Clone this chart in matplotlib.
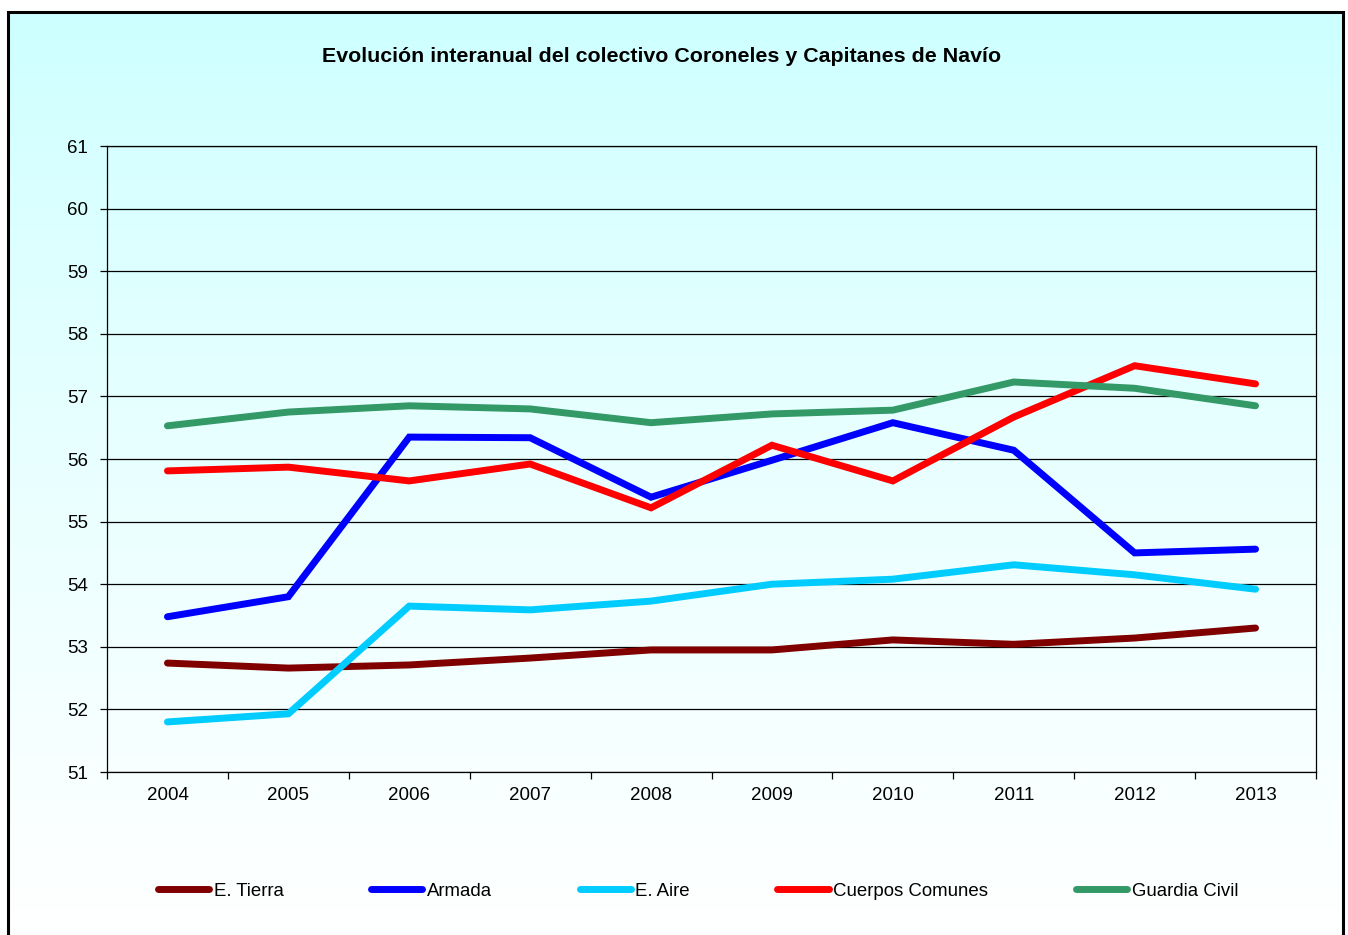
import numpy as np
import matplotlib.pyplot as plt
from matplotlib.patches import Rectangle

plt.rcParams['font.family'] = ['Liberation Sans', 'DejaVu Sans']

years = ['2004', '2005', '2006', '2007', '2008', '2009', '2010', '2011', '2012', '2013']
tierra = [52.74, 52.66, 52.71, 52.82, 52.95, 52.95, 53.11, 53.04, 53.14, 53.30]
armada = [53.48, 53.80, 56.35, 56.34, 55.39, 55.98, 56.58, 56.14, 54.50, 54.56]
aire = [51.80, 51.93, 53.65, 53.59, 53.73, 54.00, 54.08, 54.31, 54.15, 53.92]
comunes = [55.81, 55.87, 55.65, 55.92, 55.22, 56.22, 55.65, 56.67, 57.49, 57.20]
guardia = [56.53, 56.75, 56.85, 56.80, 56.58, 56.72, 56.78, 57.23, 57.13, 56.85]

series = [
    ('E. Tierra', tierra, '#800000'),
    ('Armada', armada, '#0000FF'),
    ('E. Aire', aire, '#00CCFF'),
    ('Cuerpos Comunes', comunes, '#FF0000'),
    ('Guardia Civil', guardia, '#339966'),
]

W, H = 1348, 935
fig = plt.figure(figsize=(W / 100, H / 100), dpi=100)
fig.patch.set_facecolor('white')

# background gradient inside the chart frame (cyan at top -> white at bottom)
bg = fig.add_axes([8 / W, 0, (1343 - 8) / W, (H - 12) / H], zorder=0)
grad = np.linspace(0, 1, 256).reshape(-1, 1) ** 0.8
top = np.array([0xCC, 0xFF, 0xFF]) / 255
bot = np.array([1.0, 1.0, 1.0])
img = top[None, None, :] * (1 - grad[:, :, None]) + bot[None, None, :] * grad[:, :, None]
bg.imshow(img, aspect='auto', extent=[0, 1, 0, 1])
bg.set_axis_off()
fig.add_artist(Rectangle((8 / W, -0.1), (1343 - 8) / W, 1.1 - 12 / H, transform=fig.transFigure,
                         fill=False, edgecolor='black', linewidth=2.2, zorder=5))

ax = fig.add_axes([107 / W, 1 - 772 / H, (1316 - 107) / W, (772 - 146) / H], zorder=1)
ax.patch.set_alpha(0)

x = np.arange(len(years))
for name, vals, col in series:
    ax.plot(x, vals, color=col, lw=5, label=name, solid_capstyle='round', solid_joinstyle='miter')

ax.set_xlim(-0.5, len(years) - 0.5)
ax.set_ylim(51, 61)
ax.set_yticks(range(51, 62))
ax.yaxis.grid(True, color='black', lw=0.9)
ax.set_axisbelow(True)
ax.set_xticks(x)
ax.set_xticklabels(years)
ax.set_xticks(np.arange(-0.5, len(years)), minor=True)
ax.tick_params(axis='x', which='major', length=0, pad=11, labelsize=13.5)
ax.tick_params(axis='x', which='minor', length=5, width=0.9, direction='out')
ax.tick_params(axis='y', length=5, width=0.9, pad=8.5, labelsize=13.5)
for s in ax.spines.values():
    s.set_linewidth(0.9)
    s.set_color('black')

fig.text(662 / W, 1 - 57 / H, 'Evolución interanual del colectivo Coroneles y Capitanes de Navío',
         ha='center', va='center', fontsize=15.4, fontweight='bold')

fig.legend(loc='center', bbox_to_anchor=(698 / W, 1 - 891 / H), ncol=5, frameon=False,
           fontsize=13.4, handlelength=2.75, handletextpad=0.25, columnspacing=4.7)

fig.savefig('out.png', dpi=100)
